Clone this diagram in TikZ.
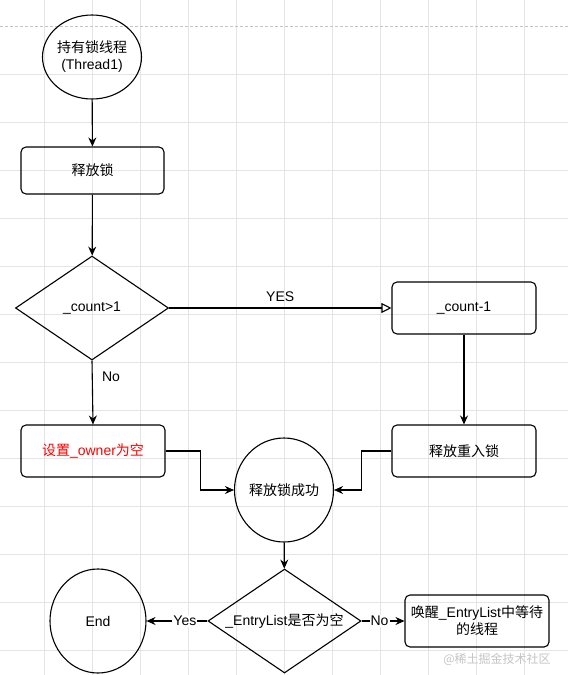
\documentclass[tikz,border=0pt]{standalone}
\usepackage{fontspec}
\setmainfont{Liberation Sans}
\newfontfamily\cjk{Noto Sans CJK SC}
\usetikzlibrary{shapes.geometric,arrows.meta}
\definecolor{gridgray}{RGB}{228,228,228}
\definecolor{markgray}{RGB}{196,196,196}
\begin{document}
\begin{tikzpicture}[x=1pt,y=-1pt,line width=1.1pt,
  font=\fontsize{14}{17}\selectfont,
  box/.style={draw,rounded corners=5pt,minimum width=144pt,minimum height=52pt,align=center,inner sep=2pt},
  dia/.style={draw,diamond,aspect=1.5,minimum width=153pt,minimum height=104pt,inner sep=0pt},
  ring/.style={draw,ellipse,minimum width=96pt,minimum height=104pt,align=center,inner sep=0pt},
  arr/.style={-{Stealth[length=9pt,width=8pt,inset=3pt]}},
  tag/.style={fill=white,inner sep=1pt}]
\useasboundingbox (0,0) rectangle (568,675);
\foreach \x in {44,92,...,524}
\draw[gridgray,line width=0.8pt] (\x,0) -- (\x,675);
\foreach \y in {74,122,...,650}
\draw[gridgray,line width=0.8pt] (0,\y) -- (568,\y);
\draw[markgray,line width=0.8pt,dash pattern=on 3pt off 2pt] (0,26) -- (568,26);
\node[ring,minimum width=84pt,minimum height=84pt] (start) at (92,57) {{\cjk 持有锁线程}\\(Thread1)};
\node[box,minimum width=143pt,minimum height=47pt] (release) at (92.5,170.5) {\cjk 释放锁};
\node[dia] (cnt) at (92,308) {\_count>1};
\node[box] (dec) at (464,308) {\_count-1};
\node[box,text=red] (owner) at (93,451) {{\cjk 设置}\_owner{\cjk 为空}};
\node[box] (reent) at (464,451) {\cjk 释放重入锁};
\node[ring] (ok) at (284,490) {\cjk 释放锁成功};
\node[dia] (empty) at (284.5,621) {\_EntryList{\cjk 是否为空}};
\node[ring] (endc) at (98,621) {End};
\node[box] (wake) at (477,621) {{\cjk 唤醒}\_EntryList{\cjk 中等待}\\{\cjk 的线程}};
\node[markgray,font=\fontsize{12}{14}\selectfont] (mark) at (497,659) {\cjk @稀土掘金技术社区};
\draw[arr] (start) -- (release);
\draw[arr] (release) -- (cnt);
\draw[-{Triangle[open,length=10pt,width=10pt]}] (cnt.east) -- node[above=2pt] {YES} (dec.west);
\draw[arr] (cnt.south) -- node[pos=0.25,right=6pt] {No} (owner.north);
\draw[arr] (dec) -- (reent);
\draw[arr] (owner.east) -- ++(35,0) |- (ok.west);
\draw[arr] (reent.west) -- ++(-30,0) |- (ok.east);
\draw[arr] (ok) -- (empty);
\draw[arr] (empty.west) -- node[tag,pos=0.37] {Yes} (endc.east);
\draw[arr] (empty.east) -- node[tag,pos=0.42] {No} (wake.west);
\end{tikzpicture}
\end{document}
